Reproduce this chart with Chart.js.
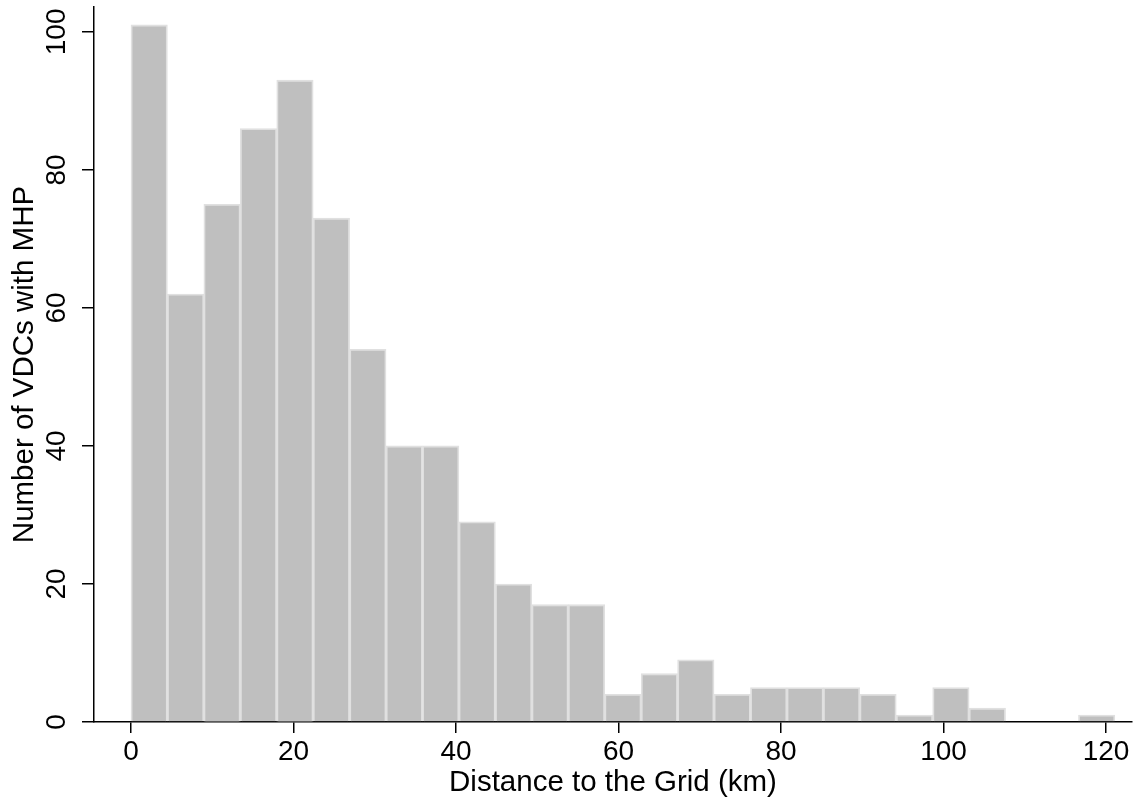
<!DOCTYPE html>
<html>
<head>
<meta charset="utf-8">
<script src="https://cdn.jsdelivr.net/npm/chart.js@4"></script>
<style>
  html, body { margin: 0; padding: 0; background: #fff; }
  #wrap { width: 1138px; height: 805px; }
</style>
</head>
<body>
<div id="wrap"><canvas id="histChart"></canvas></div>
<script>
// Histogram of distance to the grid (27 bins starting at 0 km)
const binStart = 0;
const binWidth = 4.485;
const counts = [101, 62, 75, 86, 93, 73, 54, 40, 40, 29, 20, 17, 17, 4,
                7, 9, 4, 5, 5, 5, 4, 1, 5, 2, 0, 0, 1];
const xTicks = [0, 20, 40, 60, 80, 100, 120];
const yTicks = [0, 20, 40, 60, 80, 100];

const FONT = '"Liberation Sans", Arial, Helvetica, sans-serif';

function initChart() {
    const ctx = document.getElementById('histChart').getContext('2d');
    const points = counts.map((c, i) => ({ x: binStart + (i + 0.5) * binWidth, y: c }));

    new Chart(ctx, {
    type: 'bar',
    data: {
        datasets: [{
        data: points,
        backgroundColor: '#bfbfbf',
        borderColor: '#e0e0e0',
        borderWidth: 1.8,
        barPercentage: 1.0,
        categoryPercentage: 1.0
        }]
    },
    options: {
        responsive: true,
        maintainAspectRatio: false,
        animation: false,
        layout: { padding: { top: 7, right: 6, left: 0, bottom: 0 } },
        plugins: {
        legend: { display: false },
        tooltip: { enabled: false }
        },
        scales: {
        x: {
            type: 'linear',
            min: -4.55,
            max: 123.2,
            offset: false,
            afterBuildTicks: s => { s.ticks = xTicks.map(v => ({ value: v })); },
            afterFit: s => { s.height = 83; s.paddingLeft = 0; s.paddingRight = 0; },
            grid: { offset: false, drawOnChartArea: false, drawTicks: true, tickLength: 11, color: '#000', lineWidth: 1.5 },
            border: { display: true, color: '#000', width: 1.5 },
            ticks: { color: '#000', padding: 2, maxRotation: 0, font: { family: FONT, size: 28 } },
            title: {
            display: true,
            text: 'Distance to the Grid (km)',
            color: '#000',
            font: { family: FONT, size: 29.5 },
            padding: { top: 0, bottom: 4 }
            }
        },
        y: {
            min: 0,
            max: 103.6,
            afterBuildTicks: s => { s.ticks = yTicks.map(v => ({ value: v })); },
            afterFit: s => { s.width = 94; s.paddingTop = 0; s.paddingBottom = 0; },
            grid: { drawOnChartArea: false, drawTicks: true, tickLength: 12, color: '#000', lineWidth: 1.5 },
            border: { display: true, color: '#000', width: 1.5 },
            ticks: { color: '#000', padding: 1, minRotation: 90, maxRotation: 90, crossAlign: 'center', font: { family: FONT, size: 28 } },
            title: {
            display: true,
            text: 'Number of VDCs with MHP',
            color: '#000',
            font: { family: FONT, size: 29.5 },
            padding: { top: 7, bottom: 0 }
            }
        }
        }
    }
    });
}

initChart();
</script>
</body>
</html>
